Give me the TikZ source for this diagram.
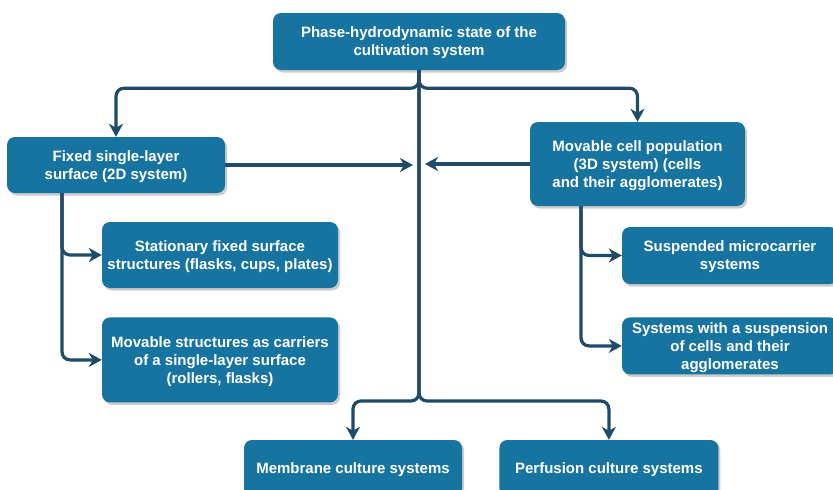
\documentclass[tikz,border=0pt]{standalone}
\usepackage{fontspec}
\setmainfont{Liberation Sans}
\usetikzlibrary{positioning,calc,shadows,arrows.meta}
\definecolor{boxblue}{HTML}{1774A0}
\definecolor{linenavy}{HTML}{1F4A68}

\begin{document}
\begin{tikzpicture}[x=1pt, y=1pt,
			block/.style={rectangle, rounded corners=8pt, fill=boxblue, text=white, align=center, inner sep=2pt,
				font=\bfseries\fontsize{15}{18}\selectfont, text depth=-2pt,
				drop shadow={shadow xshift=2pt, shadow yshift=-2.5pt, fill=black!40, opacity=0.5}},
			link/.style={draw=linenavy, line width=3.2pt, rounded corners=8pt}
		]
		\useasboundingbox (0,0) rectangle (833,-490);
		\node[block, minimum width=292pt, minimum height=57pt] (state) at (419,-41.5) {Phase-hydrodynamic state of the\\cultivation system};
		\node[block, minimum width=218pt, minimum height=56pt] (fixed) at (116,-165) {Fixed single-layer\\surface (2D system)};
		\node[block, minimum width=215pt, minimum height=84pt] (movable) at (637.5,-164) {Movable cell population\\(3D system) (cells\\and their agglomerates)};
		\node[block, minimum width=236pt, minimum height=66pt] (stationary) at (220,-255) {Stationary fixed surface\\structures (flasks, cups, plates)};
		\node[block, minimum width=236pt, minimum height=85pt] (carriers) [below=29pt of stationary] {Movable structures as carriers\\of a single-layer surface\\(rollers, flasks)};
		\node[block, minimum width=216pt, minimum height=57pt] (microcarrier) at (730,-255.5) {Suspended microcarrier\\systems};
		\node[block, minimum width=216pt, minimum height=57pt] (suspension) [below=33pt of microcarrier] {Systems with a suspension\\of cells and their\\agglomerates};
		\node[block, minimum width=218pt, minimum height=57pt] (membrane) at (353,-468.5) {Membrane culture systems};
		\node[block, minimum width=219pt, minimum height=57pt] (perfusion) [right=37pt of membrane] {Perfusion culture systems};
		\coordinate (topsplit) at ($(state.south)+(0,-18)$);
		\coordinate (bottomsplit) at (state.south |- 0,-401);
		\coordinate (leftstop) at ($(state.south |- fixed.east)+(-6,0)$);
		\coordinate (rightstop) at ($(state.south |- movable.west)+(6,0)$);
		\coordinate (lefttrunk) at ([xshift=-54pt]fixed.south);
		\coordinate (righttrunk) at ([xshift=-56.5pt]movable.south);
		\begin{scope}[link, -{Stealth[length=13pt, width=14pt, inset=4pt]}]
		\draw (state.south) -- (topsplit) -| (fixed.north);
		\draw (state.south) -- (topsplit) -| (movable.north);
		\draw (fixed.east) -- (leftstop);
		\draw (movable.west) -- (rightstop);
		\draw (lefttrunk) |- (stationary.west);
		\draw (lefttrunk) |- (carriers.west);
		\draw (righttrunk) |- (microcarrier.west);
		\draw (righttrunk) |- (suspension.west);
		\draw (state.south) -- (bottomsplit) -| (membrane.north);
		\draw (state.south) -- (bottomsplit) -| (perfusion.north);
		\end{scope}
\end{tikzpicture}
\end{document}
